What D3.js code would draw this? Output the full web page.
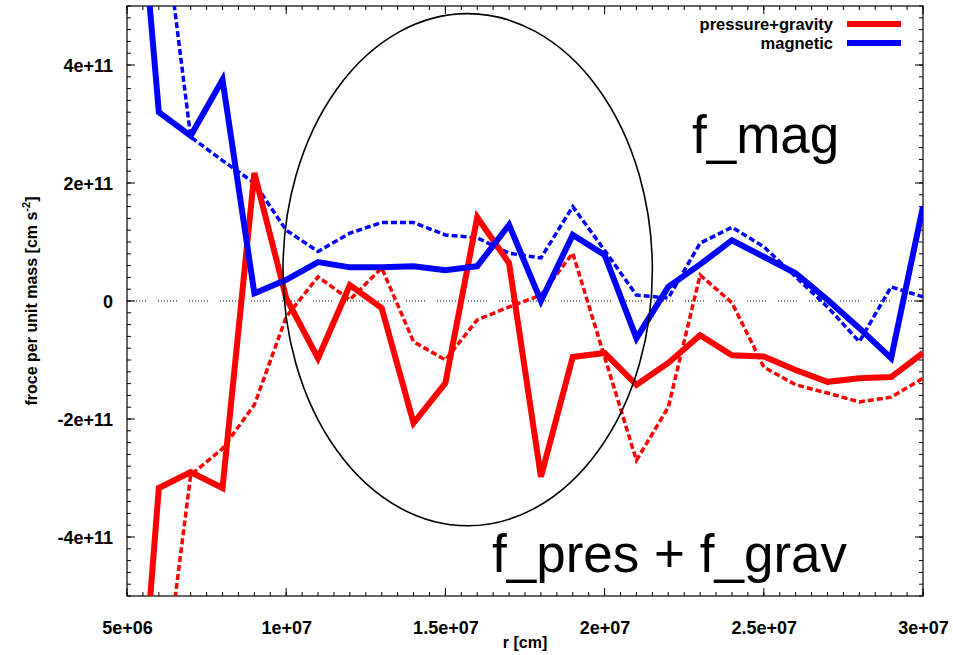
<!DOCTYPE html>
<html>
<head>
<meta charset="utf-8">
<script src="https://cdn.jsdelivr.net/npm/d3@7"></script>
<style>
  html, body { margin: 0; padding: 0; background: #fff; }
  svg { display: block; }
  text { font-family: "Liberation Sans", Arial, sans-serif; }
</style>
</head>
<body>
<div id="chart"></div>
<script>
// ---- data (force values in units of 1e11 cm s^-2) ----
const radius = [5e6, 6e6, 7e6, 8e6, 9e6, 10e6, 11e6, 12e6, 13e6, 14e6, 15e6, 16e6, 17e6,
                18e6, 19e6, 20e6, 21e6, 22e6, 23e6, 24e6, 25e6, 26e6, 27e6, 28e6, 29e6, 30e6];
const presGravSolid = [-10, -3.17, -2.9, -3.17, 2.17, 0.05, -0.97, 0.27, -0.12, -2.07, -1.39, 1.42, 0.64,
                       -2.98, -0.95, -0.88, -1.42, -1.05, -0.58, -0.92, -0.94, -1.17, -1.37, -1.31, -1.29, -0.88];
const presGravDashed = [-12, -7.2, -2.95, -2.5, -1.76, -0.27, 0.41, 0.02, 0.56, -0.69, -1.0, -0.32, -0.1,
                        0.1, 0.81, -0.95, -2.7, -1.8, 0.44, -0.03, -1.12, -1.42, -1.56, -1.71, -1.63, -1.31];
const magneticSolid = [9.5, 3.2, 2.8, 3.75, 0.13, 0.36, 0.66, 0.57, 0.57, 0.59, 0.52, 0.59, 1.29,
                       0.0, 1.12, 0.78, -0.63, 0.24, 0.62, 1.03, 0.75, 0.47, 0.02, -0.46, -0.97, 1.6];
const magneticDashed = [12, 7.1, 2.78, 2.38, 2.0, 1.2, 0.84, 1.15, 1.33, 1.33, 1.12, 1.07, 0.81,
                        0.73, 1.6, 0.86, 0.1, 0.05, 0.98, 1.25, 0.92, 0.41, -0.1, -0.69, 0.24, 0.07];
const valueUnit = 1e11;

const xTickValues = [5e6, 1e7, 1.5e7, 2e7, 2.5e7, 3e7];
const xTickLabels = ["5e+06", "1e+07", "1.5e+07", "2e+07", "2.5e+07", "3e+07"];
const yTickValues = [-4e11, -2e11, 0, 2e11, 4e11];
const yTickLabels = ["-4e+11", "-2e+11", "0", "2e+11", "4e+11"];

const legendLabels = ["pressure+gravity", "magnetic"];
const xTitle = "r [cm]";
const annotations = ["f_mag", "f_pres + f_grav"];
// ellipse annotation: centre (r, value) and radii in data units
const ellipseCenter = [1.57e7, 0.53e11];
const ellipseRadii = [5.8e6, 4.34e11];

// ---- layout ----
const W = 953, H = 655;
const L = 127, R = 923, T = 6, B = 596;

const svg = d3.select("#chart").append("svg").attr("width", W).attr("height", H);

const x = d3.scaleLinear().domain([5e6, 3e7]).range([L, R]);
const y = d3.scaleLinear().domain([-5e11, 5e11]).range([B, T]);

svg.append("defs").append("clipPath").attr("id", "plotclip")
  .append("rect").attr("x", L).attr("y", T).attr("width", R - L).attr("height", B - T);

// zero line
svg.append("line")
  .attr("x1", L).attr("x2", R).attr("y1", y(0)).attr("y2", y(0))
  .attr("stroke", "#000").attr("stroke-width", 1)
  .attr("stroke-dasharray", "1,2,1,2,1,2,1,2,1,2,1,2,1,12");

// axes (ticks inward, mirrored)
const xMinor = d3.range(5e6, 3e7 + 1, 5e5);
const yMinor = d3.range(-5e11, 5e11 + 1, 2e10);
function drawTicks(g, scale, vals, len, orient) {
  vals.forEach(v => {
    const p = scale(v);
    if (orient === "bottom") g.append("line").attr("x1", p).attr("x2", p).attr("y1", B).attr("y2", B - len);
    if (orient === "top") g.append("line").attr("x1", p).attr("x2", p).attr("y1", T).attr("y2", T + len);
    if (orient === "left") g.append("line").attr("y1", p).attr("y2", p).attr("x1", L).attr("x2", L + len);
    if (orient === "right") g.append("line").attr("y1", p).attr("y2", p).attr("x1", R).attr("x2", R - len);
  });
}
const tg = svg.append("g").attr("stroke", "#000").attr("stroke-width", 1);
["bottom", "top"].forEach(o => { drawTicks(tg, x, xMinor, 4, o); drawTicks(tg, x, xTickValues, 8, o); });
["left", "right"].forEach(o => { drawTicks(tg, y, yMinor, 4, o); drawTicks(tg, y, yTickValues, 8, o); });

// axis labels via d3 axes (tick lines hidden, labels only)
const xAxis = d3.axisBottom(x).tickValues(xTickValues).tickSize(0).tickPadding(0)
  .tickFormat((d, i) => xTickLabels[i]);
const gx = svg.append("g").attr("transform", `translate(0,${B})`).call(xAxis);
gx.select(".domain").remove();
gx.selectAll("text").attr("dy", null).attr("y", 38)
  .attr("font-size", 18).attr("font-weight", "bold").attr("fill", "#000")
  .attr("font-family", "'Liberation Sans', Arial, sans-serif");

const yAxis = d3.axisLeft(y).tickValues(yTickValues).tickSize(0).tickPadding(0)
  .tickFormat((d, i) => yTickLabels[i]);
const gy = svg.append("g").attr("transform", `translate(${L},0)`).call(yAxis);
gy.select(".domain").remove();
gy.selectAll("text").attr("x", -14).attr("dy", "0.36em")
  .attr("font-size", 18).attr("font-weight", "bold").attr("fill", "#000")
  .attr("font-family", "'Liberation Sans', Arial, sans-serif");

// frame
svg.append("rect").attr("x", L).attr("y", T).attr("width", R - L).attr("height", B - T)
  .attr("fill", "none").attr("stroke", "#000").attr("stroke-width", 1.2);

// axis titles
svg.append("text").attr("x", (L + R) / 2).attr("y", 648).attr("text-anchor", "middle")
  .attr("font-size", 16).attr("font-weight", "bold").text(xTitle);

const yt = svg.append("text")
  .attr("transform", `translate(37,${y(0)}) rotate(-90)`)
  .attr("text-anchor", "middle").attr("font-size", 16).attr("font-weight", "bold");
yt.append("tspan").text("froce per unit mass [cm s");
yt.append("tspan").attr("dy", -7).attr("font-size", 11).text("-2");
yt.append("tspan").attr("dy", 7).text("]");

// series
const plot = svg.append("g").attr("clip-path", "url(#plotclip)");
const line = d3.line().x(d => x(d[0])).y(d => y(d[1] * valueUnit));
const series = [
  { vals: presGravDashed, color: "#ff0000", width: 3.5, dash: "6,3" },
  { vals: magneticDashed, color: "#0000ff", width: 3.5, dash: "6,3" },
  { vals: presGravSolid, color: "#ff0000", width: 6, dash: null },
  { vals: magneticSolid, color: "#0000ff", width: 6, dash: null }
];
series.forEach(s => {
  plot.append("path")
    .datum(radius.map((r, i) => [r, s.vals[i]]))
    .attr("d", line)
    .attr("fill", "none")
    .attr("stroke", s.color)
    .attr("stroke-width", s.width)
    .attr("stroke-linejoin", "miter")
    .attr("stroke-dasharray", s.dash);
});

// ellipse annotation
svg.append("ellipse")
  .attr("cx", x(ellipseCenter[0])).attr("cy", y(ellipseCenter[1]))
  .attr("rx", x(ellipseCenter[0] + ellipseRadii[0]) - x(ellipseCenter[0]))
  .attr("ry", y(0) - y(ellipseRadii[1]))
  .attr("fill", "none").attr("stroke", "#000").attr("stroke-width", 1.6);

// legend
const legendColors = ["#ff0000", "#0000ff"];
legendLabels.forEach((lab, i) => {
  const yy = 24 + i * 19;
  svg.append("text").attr("x", 833).attr("y", yy + 6).attr("text-anchor", "end")
    .attr("font-size", 16.5).attr("font-weight", "bold").text(lab);
  svg.append("line").attr("x1", 847).attr("x2", 901).attr("y1", yy).attr("y2", yy)
    .attr("stroke", legendColors[i]).attr("stroke-width", 6);
});

// big annotation texts
svg.append("text").attr("x", 692).attr("y", 153).attr("font-size", 53)
  .attr("font-family", "'Liberation Sans', Arial, sans-serif").text(annotations[0]);
svg.append("text").attr("x", 492).attr("y", 572).attr("font-size", 53)
  .attr("font-family", "'Liberation Sans', Arial, sans-serif").text(annotations[1]);
</script>
</body>
</html>
